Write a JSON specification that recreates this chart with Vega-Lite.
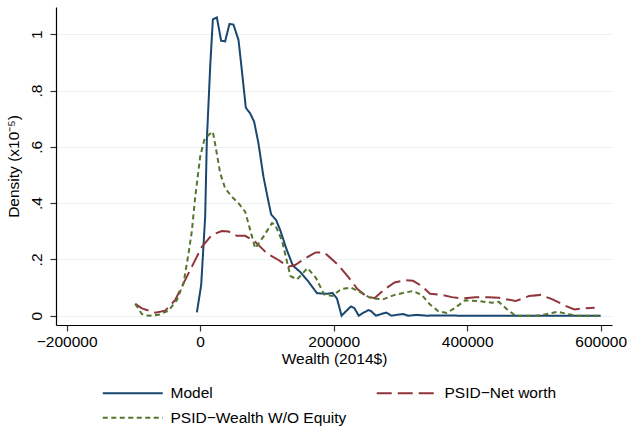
{
  "$schema": "https://vega.github.io/schema/vega-lite/v6.json",
  "autosize": {"type": "none"},
  "width": 556,
  "height": 318,
  "padding": {"left": 56, "top": 7, "right": 17, "bottom": 105},
  "background": "white",
  "config": {
    "view": {"stroke": null},
    "font": "Liberation Sans",
    "axis": {"labelFont": "Liberation Sans", "titleFont": "Liberation Sans", "labelFontSize": 15.5, "titleFontSize": 15.5, "titleFontWeight": "normal", "labelColor": "black", "titleColor": "black", "domainColor": "black", "tickColor": "#333333", "tickSize": 6, "domainWidth": 1.2, "tickWidth": 1.2},
    "legend": {"labelFont": "Liberation Sans", "labelFontSize": 15.5, "labelColor": "black", "labelLimit": 400}
  },
  "data": {"values": [
    {"series": "Model", "x": -4900, "y": 0.012},
    {"series": "Model", "x": 1500, "y": 0.109},
    {"series": "Model", "x": 7500, "y": 0.352},
    {"series": "Model", "x": 10000, "y": 0.624},
    {"series": "Model", "x": 15000, "y": 0.885},
    {"series": "Model", "x": 19000, "y": 1.053},
    {"series": "Model", "x": 25000, "y": 1.06},
    {"series": "Model", "x": 31400, "y": 0.977},
    {"series": "Model", "x": 37400, "y": 0.975},
    {"series": "Model", "x": 43900, "y": 1.037},
    {"series": "Model", "x": 49900, "y": 1.034},
    {"series": "Model", "x": 57400, "y": 0.98},
    {"series": "Model", "x": 62400, "y": 0.873},
    {"series": "Model", "x": 68400, "y": 0.739},
    {"series": "Model", "x": 74900, "y": 0.719},
    {"series": "Model", "x": 80900, "y": 0.689},
    {"series": "Model", "x": 87300, "y": 0.613},
    {"series": "Model", "x": 94800, "y": 0.494},
    {"series": "Model", "x": 100800, "y": 0.423},
    {"series": "Model", "x": 106300, "y": 0.36},
    {"series": "Model", "x": 113800, "y": 0.34},
    {"series": "Model", "x": 119800, "y": 0.305},
    {"series": "Model", "x": 128800, "y": 0.24},
    {"series": "Model", "x": 138800, "y": 0.178},
    {"series": "Model", "x": 149700, "y": 0.156},
    {"series": "Model", "x": 162200, "y": 0.121},
    {"series": "Model", "x": 175000, "y": 0.08},
    {"series": "Model", "x": 190600, "y": 0.078},
    {"series": "Model", "x": 198200, "y": 0.081},
    {"series": "Model", "x": 204900, "y": 0.061},
    {"series": "Model", "x": 211900, "y": 0.0},
    {"series": "Model", "x": 218500, "y": 0.016},
    {"series": "Model", "x": 226000, "y": 0.033},
    {"series": "Model", "x": 231000, "y": 0.027},
    {"series": "Model", "x": 237600, "y": 0.0},
    {"series": "Model", "x": 244100, "y": 0.01},
    {"series": "Model", "x": 252200, "y": 0.02},
    {"series": "Model", "x": 256200, "y": 0.016},
    {"series": "Model", "x": 263300, "y": 0.0},
    {"series": "Model", "x": 271300, "y": 0.006},
    {"series": "Model", "x": 279000, "y": 0.011},
    {"series": "Model", "x": 286500, "y": 0.0},
    {"series": "Model", "x": 294100, "y": 0.003},
    {"series": "Model", "x": 304100, "y": 0.006},
    {"series": "Model", "x": 311600, "y": 0.0},
    {"series": "Model", "x": 324300, "y": 0.003},
    {"series": "Model", "x": 339400, "y": 0.0},
    {"series": "Model", "x": 351900, "y": 0.001},
    {"series": "Model", "x": 400000, "y": 0.0},
    {"series": "Model", "x": 600000, "y": 0.0},

    {"series": "PSID−Net worth", "x": -97300, "y": 0.042},
    {"series": "PSID−Net worth", "x": -87300, "y": 0.026},
    {"series": "PSID−Net worth", "x": -67400, "y": 0.011},
    {"series": "PSID−Net worth", "x": -52400, "y": 0.018},
    {"series": "PSID−Net worth", "x": -37400, "y": 0.056},
    {"series": "PSID−Net worth", "x": -25000, "y": 0.115},
    {"series": "PSID−Net worth", "x": -10000, "y": 0.186},
    {"series": "PSID−Net worth", "x": 2500, "y": 0.245},
    {"series": "PSID−Net worth", "x": 17500, "y": 0.287},
    {"series": "PSID−Net worth", "x": 32500, "y": 0.301},
    {"series": "PSID−Net worth", "x": 42400, "y": 0.299},
    {"series": "PSID−Net worth", "x": 54900, "y": 0.284},
    {"series": "PSID−Net worth", "x": 67400, "y": 0.284},
    {"series": "PSID−Net worth", "x": 82400, "y": 0.263},
    {"series": "PSID−Net worth", "x": 99800, "y": 0.222},
    {"series": "PSID−Net worth", "x": 117300, "y": 0.198},
    {"series": "PSID−Net worth", "x": 132200, "y": 0.174},
    {"series": "PSID−Net worth", "x": 142300, "y": 0.18},
    {"series": "PSID−Net worth", "x": 157200, "y": 0.204},
    {"series": "PSID−Net worth", "x": 173000, "y": 0.225},
    {"series": "PSID−Net worth", "x": 186000, "y": 0.225},
    {"series": "PSID−Net worth", "x": 205700, "y": 0.183},
    {"series": "PSID−Net worth", "x": 220800, "y": 0.141},
    {"series": "PSID−Net worth", "x": 235900, "y": 0.094},
    {"series": "PSID−Net worth", "x": 248600, "y": 0.07},
    {"series": "PSID−Net worth", "x": 261100, "y": 0.062},
    {"series": "PSID−Net worth", "x": 276300, "y": 0.094},
    {"series": "PSID−Net worth", "x": 291300, "y": 0.118},
    {"series": "PSID−Net worth", "x": 306400, "y": 0.126},
    {"series": "PSID−Net worth", "x": 319000, "y": 0.124},
    {"series": "PSID−Net worth", "x": 331700, "y": 0.106},
    {"series": "PSID−Net worth", "x": 344300, "y": 0.078},
    {"series": "PSID−Net worth", "x": 361800, "y": 0.074},
    {"series": "PSID−Net worth", "x": 377000, "y": 0.066},
    {"series": "PSID−Net worth", "x": 392000, "y": 0.061},
    {"series": "PSID−Net worth", "x": 412200, "y": 0.066},
    {"series": "PSID−Net worth", "x": 432300, "y": 0.066},
    {"series": "PSID−Net worth", "x": 447400, "y": 0.064},
    {"series": "PSID−Net worth", "x": 472600, "y": 0.052},
    {"series": "PSID−Net worth", "x": 492800, "y": 0.07},
    {"series": "PSID−Net worth", "x": 510400, "y": 0.074},
    {"series": "PSID−Net worth", "x": 528000, "y": 0.058},
    {"series": "PSID−Net worth", "x": 548200, "y": 0.034},
    {"series": "PSID−Net worth", "x": 560800, "y": 0.022},
    {"series": "PSID−Net worth", "x": 573400, "y": 0.026},
    {"series": "PSID−Net worth", "x": 591000, "y": 0.028},

    {"series": "PSID−Wealth W/O Equity", "x": -97300, "y": 0.042},
    {"series": "PSID−Wealth W/O Equity", "x": -87300, "y": 0.006},
    {"series": "PSID−Wealth W/O Equity", "x": -77400, "y": 0.0},
    {"series": "PSID−Wealth W/O Equity", "x": -62400, "y": 0.003},
    {"series": "PSID−Wealth W/O Equity", "x": -47400, "y": 0.018},
    {"series": "PSID−Wealth W/O Equity", "x": -34900, "y": 0.056},
    {"series": "PSID−Wealth W/O Equity", "x": -25000, "y": 0.115},
    {"series": "PSID−Wealth W/O Equity", "x": -17500, "y": 0.22},
    {"series": "PSID−Wealth W/O Equity", "x": -12500, "y": 0.3},
    {"series": "PSID−Wealth W/O Equity", "x": -7500, "y": 0.42},
    {"series": "PSID−Wealth W/O Equity", "x": 0, "y": 0.565},
    {"series": "PSID−Wealth W/O Equity", "x": 6000, "y": 0.624},
    {"series": "PSID−Wealth W/O Equity", "x": 12500, "y": 0.642},
    {"series": "PSID−Wealth W/O Equity", "x": 19000, "y": 0.654},
    {"series": "PSID−Wealth W/O Equity", "x": 24000, "y": 0.589},
    {"series": "PSID−Wealth W/O Equity", "x": 30000, "y": 0.506},
    {"series": "PSID−Wealth W/O Equity", "x": 37400, "y": 0.453},
    {"series": "PSID−Wealth W/O Equity", "x": 47400, "y": 0.423},
    {"series": "PSID−Wealth W/O Equity", "x": 57400, "y": 0.4},
    {"series": "PSID−Wealth W/O Equity", "x": 67400, "y": 0.37},
    {"series": "PSID−Wealth W/O Equity", "x": 74900, "y": 0.305},
    {"series": "PSID−Wealth W/O Equity", "x": 82400, "y": 0.24},
    {"series": "PSID−Wealth W/O Equity", "x": 94800, "y": 0.281},
    {"series": "PSID−Wealth W/O Equity", "x": 107500, "y": 0.329},
    {"series": "PSID−Wealth W/O Equity", "x": 112000, "y": 0.325},
    {"series": "PSID−Wealth W/O Equity", "x": 122600, "y": 0.267},
    {"series": "PSID−Wealth W/O Equity", "x": 135200, "y": 0.141},
    {"series": "PSID−Wealth W/O Equity", "x": 145200, "y": 0.129},
    {"series": "PSID−Wealth W/O Equity", "x": 160800, "y": 0.169},
    {"series": "PSID−Wealth W/O Equity", "x": 173300, "y": 0.135},
    {"series": "PSID−Wealth W/O Equity", "x": 185500, "y": 0.076},
    {"series": "PSID−Wealth W/O Equity", "x": 198100, "y": 0.07},
    {"series": "PSID−Wealth W/O Equity", "x": 210700, "y": 0.094},
    {"series": "PSID−Wealth W/O Equity", "x": 225800, "y": 0.1},
    {"series": "PSID−Wealth W/O Equity", "x": 240900, "y": 0.082},
    {"series": "PSID−Wealth W/O Equity", "x": 256100, "y": 0.062},
    {"series": "PSID−Wealth W/O Equity", "x": 273700, "y": 0.058},
    {"series": "PSID−Wealth W/O Equity", "x": 291300, "y": 0.074},
    {"series": "PSID−Wealth W/O Equity", "x": 306400, "y": 0.082},
    {"series": "PSID−Wealth W/O Equity", "x": 319000, "y": 0.088},
    {"series": "PSID−Wealth W/O Equity", "x": 331700, "y": 0.074},
    {"series": "PSID−Wealth W/O Equity", "x": 344300, "y": 0.04},
    {"series": "PSID−Wealth W/O Equity", "x": 356900, "y": 0.016},
    {"series": "PSID−Wealth W/O Equity", "x": 369500, "y": 0.01},
    {"series": "PSID−Wealth W/O Equity", "x": 382000, "y": 0.028},
    {"series": "PSID−Wealth W/O Equity", "x": 397100, "y": 0.055},
    {"series": "PSID−Wealth W/O Equity", "x": 417300, "y": 0.052},
    {"series": "PSID−Wealth W/O Equity", "x": 437400, "y": 0.046},
    {"series": "PSID−Wealth W/O Equity", "x": 447400, "y": 0.049},
    {"series": "PSID−Wealth W/O Equity", "x": 460000, "y": 0.022},
    {"series": "PSID−Wealth W/O Equity", "x": 472600, "y": 0.0},
    {"series": "PSID−Wealth W/O Equity", "x": 502800, "y": 0.0},
    {"series": "PSID−Wealth W/O Equity", "x": 518000, "y": 0.005},
    {"series": "PSID−Wealth W/O Equity", "x": 535600, "y": 0.014},
    {"series": "PSID−Wealth W/O Equity", "x": 550700, "y": 0.006},
    {"series": "PSID−Wealth W/O Equity", "x": 563300, "y": 0.0},
    {"series": "PSID−Wealth W/O Equity", "x": 600000, "y": 0.0}
  ]},
  "mark": {"type": "line", "strokeWidth": 2, "interpolate": "linear"},
  "encoding": {
    "x": {
      "field": "x", "type": "quantitative",
      "scale": {"domain": [-216000, 617000], "nice": false, "zero": false},
      "axis": {"values": [-200000, 0, 200000, 400000, 600000], "format": "d", "title": "Wealth (2014$)", "grid": false, "labelPadding": 3, "titlePadding": 2, "labelFlush": false}
    },
    "y": {
      "field": "y", "type": "quantitative",
      "scale": {"domain": [-0.033, 1.097], "nice": false, "zero": false},
      "axis": {"values": [0, 0.2, 0.4, 0.6, 0.8, 1], "labelExpr": "datum.value == 0 ? '0' : datum.value == 1 ? '1' : '.' + format(datum.value * 10, 'd')", "labelAngle": -90, "labelAlign": "center", "labelBaseline": "bottom", "labelPadding": 6, "title": "Density (x10⁻⁵)", "titlePadding": 8, "grid": true, "gridColor": "#eaf2f3", "gridWidth": 1.2, "labelFlush": false}
    },
    "color": {
      "field": "series", "type": "nominal",
      "scale": {"domain": ["Model", "PSID−Net worth", "PSID−Wealth W/O Equity"], "range": ["#1a476f", "#90353b", "#55752f"]},
      "legend": {"title": null, "orient": "none", "legendX": 69, "legendY": 378, "columns": 2, "direction": "horizontal", "columnPadding": 25, "rowPadding": 8, "symbolType": "M-6,0H6", "symbolSize": 100, "symbolStrokeWidth": 2, "symbolFillColor": "transparent", "labelOffset": 30, "padding": 0}
    },
    "strokeDash": {
      "field": "series", "type": "nominal",
      "scale": {"domain": ["Model", "PSID−Net worth", "PSID−Wealth W/O Equity"], "range": [[1, 0], [15, 6], [5, 3.5]]},
      "legend": {"title": null, "orient": "none", "legendX": 69, "legendY": 378, "columns": 2, "direction": "horizontal", "columnPadding": 25, "rowPadding": 8, "symbolType": "M-6,0H6", "symbolSize": 100, "symbolStrokeWidth": 2, "symbolFillColor": "transparent", "labelOffset": 30, "padding": 0}
    }
  }
}
